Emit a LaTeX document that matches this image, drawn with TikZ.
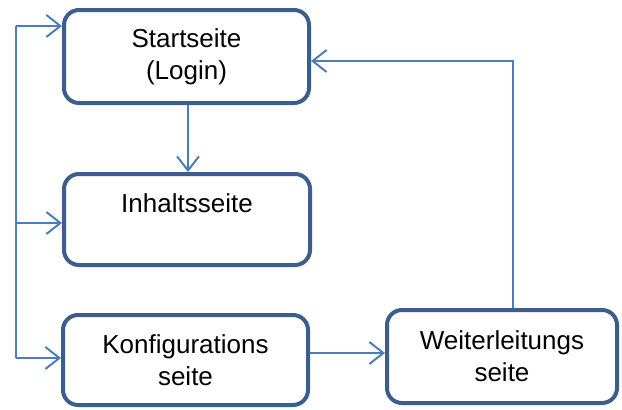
\documentclass[tikz,border=0pt]{standalone}
\usepackage{fontspec}
\setmainfont{Liberation Sans}
\usetikzlibrary{arrows.meta}
\definecolor{boxblue}{HTML}{3B5E8C}
\definecolor{linkblue}{HTML}{4A7EBB}
\tikzset{
  pagebox/.style={draw=boxblue, line width=4pt, rounded corners=15pt, fill=white,
    align=center, inner sep=0pt, font=\fontsize{26}{32}\selectfont},
  lbl/.style={align=center, inner sep=0pt, font=\fontsize{26}{32}\selectfont},
  conn/.style={draw=linkblue, line width=2pt, -{Straight Barb[length=14pt,width=22pt,line width=2pt]}},
  bus/.style={draw=linkblue, line width=2pt}
}
\begin{document}
\begin{tikzpicture}[x=1pt,y=-1pt]
\useasboundingbox (0,0) rectangle (622,410);
\node[pagebox, minimum width=245pt, minimum height=93pt] (start) at (186.5,56.5) {Startseite\\(Login)};
\node[pagebox, minimum width=246pt, minimum height=91pt] (inhalt) at (187,219.5) {};
\node[lbl] (inhalttext) at (187,203) {Inhaltsseite};
\node[pagebox, minimum width=245pt, minimum height=90pt] (konfig) at (185.5,360) {Konfigurations\\seite};
\node[pagebox, minimum width=230pt, minimum height=93pt] (weiter) at (502,356.5) {Weiterleitungs\\seite};
\coordinate (b1) at (16,26);
\coordinate (b2) at (16,223);
\coordinate (b3) at (16,358);
\coordinate (r) at (513,61);
\draw[bus] (b3) -- (b1);
\draw[conn] (b1) -- (start.west |- b1);
\draw[conn] (b2) -- (inhalt.west |- b2);
\draw[conn] (b3) -- (konfig.west |- b3);
\draw[conn] ([xshift=1.5pt]start.south) -- ([xshift=1.5pt]start.south |- inhalt.north);
\draw[conn] ([yshift=7pt]konfig.east) -- ([yshift=7pt]konfig.east -| weiter.west);
\draw[conn] (weiter.north -| r) -- (r) -- (start.east |- r);
\end{tikzpicture}
\end{document}
